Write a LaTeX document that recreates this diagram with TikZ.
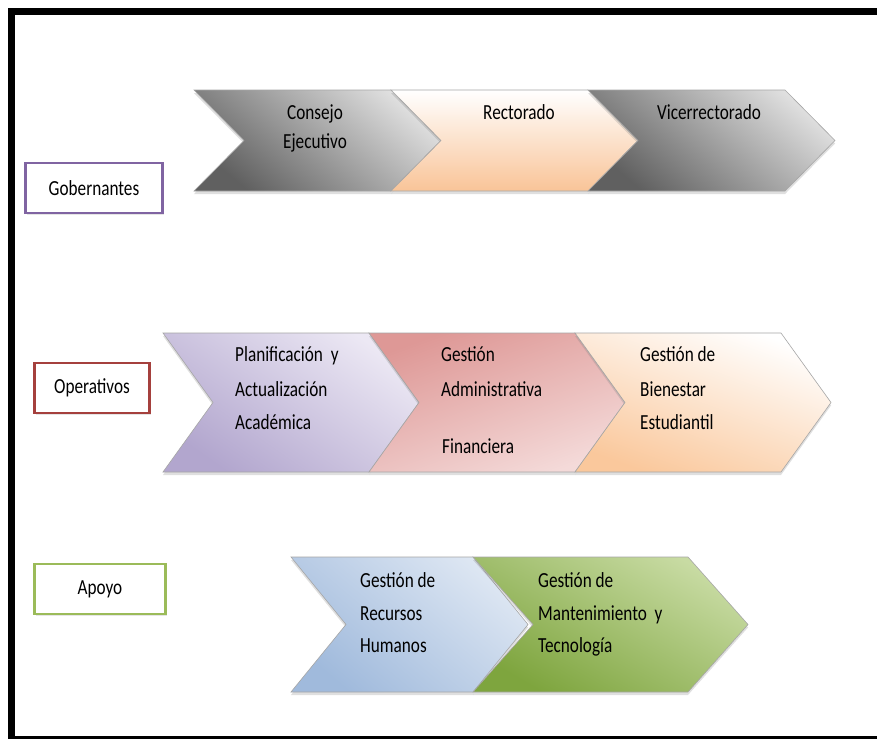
\documentclass[tikz,border=0pt]{standalone}
\usepackage{fontspec}
\setmainfont{Carlito}[FakeStretch=0.8]
\usetikzlibrary{shadows}
\definecolor{purpleB}{HTML}{8064A2}
\definecolor{redB}{HTML}{A5403D}
\definecolor{greenB}{HTML}{9BBB59}
\newcommand\chevpath[6]{% x0, top, bot, w, d
  (#1,#2) -- ({#1+#4},#2) -- ({#1+#4+#5},{(#2+#3)/2}) -- ({#1+#4},#3) -- (#1,#3) -- ({#1+#5},{(#2+#3)/2}) -- cycle}
\begin{document}
\begin{tikzpicture}[x=1pt,y=-1pt,
  txt/.style={font=\fontsize{21.5}{24}\selectfont, inner sep=0pt, anchor=base west},
  ctxt/.style={font=\fontsize{21.5}{24}\selectfont, inner sep=0pt, anchor=base},
  chev/.style={draw=black!35, line width=0.6pt, drop shadow={opacity=0.25, shadow xshift=0pt, shadow yshift=-3pt}},
  catbox/.style={draw=#1, line width=2.5pt, fill=white, minimum height=50pt, inner sep=0pt, font=\fontsize{21.5}{24}\selectfont,
     drop shadow={opacity=0.2, shadow xshift=1pt, shadow yshift=-2pt}}]
\useasboundingbox (0,0) rectangle (877,739);
\fill[white] (0,0) rectangle (877,739);
% frame
\fill[black] (8,8) rectangle (877,15);
\fill[black] (8,8) rectangle (15,739);
\fill[black] (8,736) rectangle (877,739);

% ---------- Row 1 ----------
\path[chev, top color=gray!25, bottom color=gray!75!black, shading angle=-40] \chevpath{194}{90}{191}{197}{50}{};
\path[chev, top color=white, bottom color={rgb,255:red,249;green,196;blue,152}] \chevpath{391}{90}{191}{197}{50}{};
\path[chev, top color=gray!25, bottom color=gray!75!black, shading angle=-40] \chevpath{588}{90}{191}{197}{50}{};
\node[ctxt] (ce1) at (315,119) {Consejo};
\node[ctxt] (ce2) at (315,148) {Ejecutivo};
\node[ctxt] (rec) at (519,119) {Rectorado};
\node[ctxt] (vic) at (709,119) {Vicerrectorado};

% ---------- Row 2 ----------
\path[chev, top color={rgb,255:red,236;green,232;blue,244}, bottom color={rgb,255:red,178;green,166;blue,206}, shading angle=-35] \chevpath{163}{333}{472}{206}{50}{};
\path[chev, top color={rgb,255:red,222;green,152;blue,150}, bottom color={rgb,255:red,244;green,218;blue,217}, shading angle=20] \chevpath{369}{333}{472}{206}{50}{};
\path[chev, top color=white, bottom color={rgb,255:red,250;green,200;blue,156}, shading angle=-20] \chevpath{575}{333}{472}{206}{50}{};
\node[txt] (p1) at (235,361) {Planificación\ \ y};
\node[txt] (p2) at (235,396) {Actualización};
\node[txt] (p3) at (235,429) {Académica};
\node[txt] (g1) at (441,361) {Gestión};
\node[txt] (g2) at (441,396) {Administrativa};
\node[txt] (g3) at (442,453) {Financiera};
\node[txt] (b1) at (640,361) {Gestión de};
\node[txt] (b2) at (640,396) {Bienestar};
\node[txt] (b3) at (640,429) {Estudiantil};

% ---------- Row 3 ----------
\path[chev, top color={rgb,255:red,222;green,231;blue,243}, bottom color={rgb,255:red,160;green,186;blue,220}, shading angle=-40] \chevpath{291}{557}{692}{182}{55}{};
\path[chev, top color={rgb,255:red,200;green,219;blue,163}, bottom color={rgb,255:red,126;green,165;blue,62}, shading angle=-30] \chevpath{473}{557}{692}{215}{60}{};
\node[txt] (h1) at (360,587) {Gestión de};
\node[txt] (h2) at (360,620) {Recursos};
\node[txt] (h3) at (360,652) {Humanos};
\node[txt] (m1) at (538,587) {Gestión de};
\node[txt] (m2) at (538,620) {Mantenimiento\ \ y};
\node[txt] (m3) at (538,652) {Tecnología};

% ---------- category boxes ----------
\node[catbox=purpleB, minimum width=137pt] (gob) at (94,188) {Gobernantes};
\node[catbox=redB, minimum width=115pt] (ope) at (92,388) {Operativos};
\node[catbox=greenB, minimum width=131pt] (apo) at (100,589) {Apoyo};
\end{tikzpicture}
\end{document}
